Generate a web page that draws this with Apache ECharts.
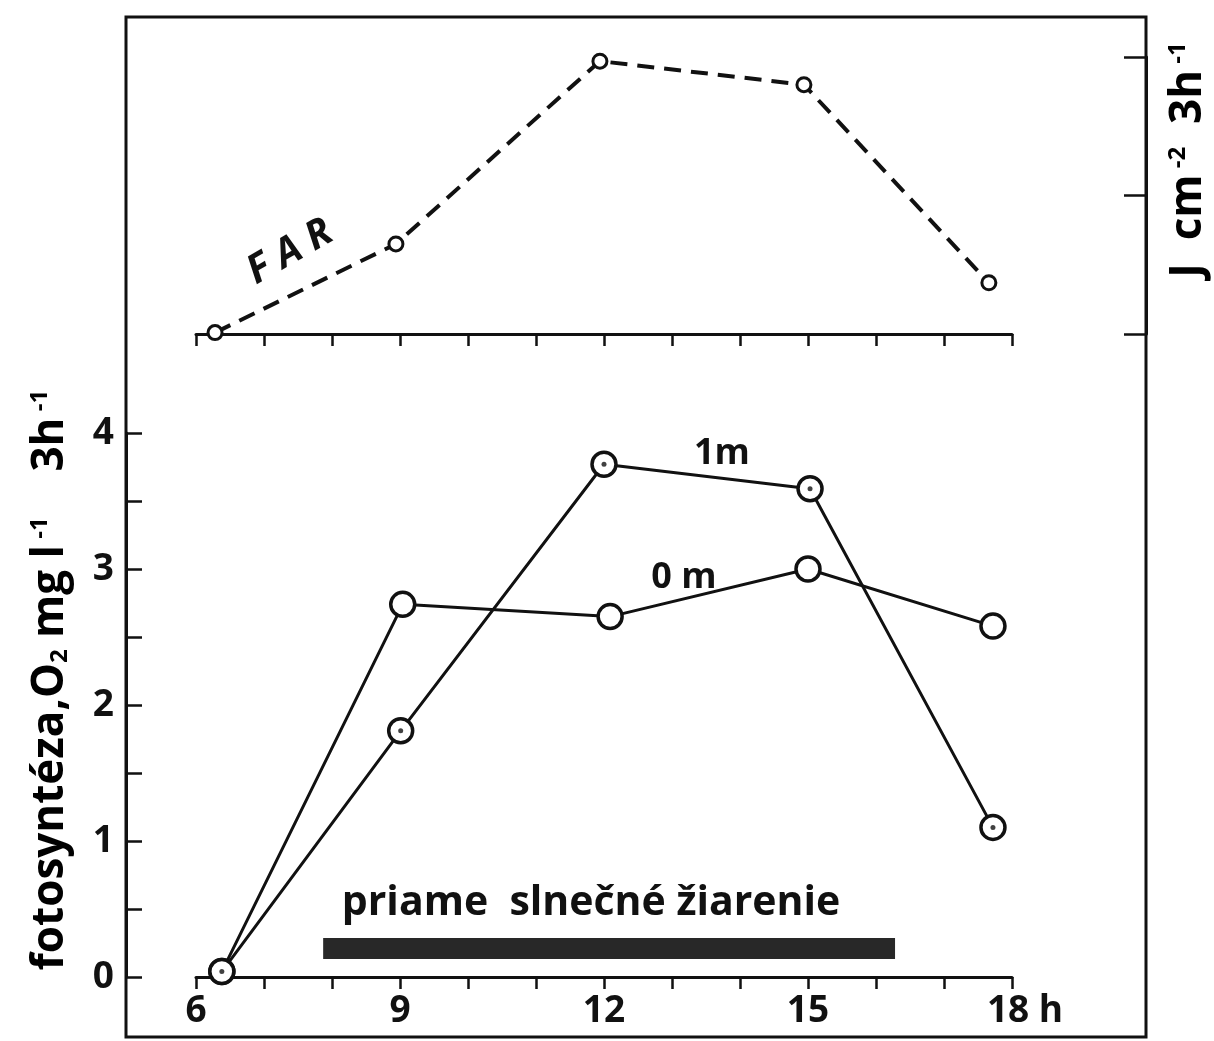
<!DOCTYPE html>
<html>
<head>
<meta charset="utf-8">
<script src="https://cdn.jsdelivr.net/npm/echarts@6/dist/echarts.min.js"></script>
<style>
  html, body { margin: 0; padding: 0; background: #fff; }
  #chart { width: 1214px; height: 1041px; }
</style>
</head>
<body>
<div id="chart"></div>
<script>
// FAR (upper panel, right axis, no numbers on it)
var farHours = [6.28, 8.94, 11.94, 14.94, 17.66];
var farValues = [0.01, 0.65, 1.97, 1.80, 0.37];

// fotosynteza O2 (lower panel)
var hours0m = [6.38, 9.04, 12.09, 15.0, 17.72];
var values0m = [0.04, 2.74, 2.65, 3.0, 2.58];
var hours1m = [6.38, 9.01, 12.0, 15.03, 17.72];
var values1m = [0.04, 1.81, 3.77, 3.59, 1.10];

// priame slnecne ziarenie - the black bar
var sunPeriod = [7.87, 16.28];
var sunLevel = 0.21;

var hourLabels = [6, 9, 12, 15, 18];

var FONT = "'Open Sans', 'DejaVu Sans', sans-serif";
var INK = '#111';

function zip(xs, ys) {
    return xs.map(function (x, i) { return [x, ys[i]]; });
}

var chart = echarts.init(document.getElementById('chart'));

var hourAxis = {
    type: 'value', min: 6, max: 18, interval: 1,
    axisLine: { lineStyle: { color: INK, width: 3 } },
    axisTick: { length: 12, lineStyle: { color: INK, width: 2.5 } },
    splitLine: { show: false }
};

var sup = { fontFamily: FONT, fontWeight: 'bold', fontSize: 24, color: INK, verticalAlign: 'top', padding: [0, 0, 18, 0] };
var sub = { fontFamily: FONT, fontWeight: 'bold', fontSize: 24, color: INK, verticalAlign: 'bottom', padding: [14, 0, 0, 0] };
var big = { fontFamily: FONT, fontWeight: 'bold', fontSize: 44, color: INK };

var option = {
    backgroundColor: '#fff',
    animation: false,
    grid: [
        { left: 196, right: 202, top: 57, height: 277 },
        { left: 196, right: 202, top: 433, height: 544 }
    ],
    xAxis: [
        Object.assign({}, hourAxis, { gridIndex: 0, axisLabel: { show: false } }),
        Object.assign({}, hourAxis, {
            gridIndex: 1,
            axisLabel: {
                margin: 16,
                formatter: function (v) {
                    if (hourLabels.indexOf(v) < 0) return '';
                    if (v === 18) return '{pad|}{n|18}{u| h}';
                    return '{n|' + v + '}';
                },
                rich: {
                    n: { fontFamily: FONT, fontWeight: 'bold', fontSize: 37, color: INK },
                    u: { fontFamily: FONT, fontWeight: 'bold', fontSize: 37, color: INK },
                    pad: { width: 26 }
                }
            }
        })
    ],
    yAxis: [
        {
            gridIndex: 0, type: 'value', position: 'right', offset: 134,
            min: 0, max: 2, interval: 1,
            axisLine: { show: true, lineStyle: { color: INK, width: 3 } },
            axisTick: { inside: true, length: 22, lineStyle: { color: INK, width: 2.5 } },
            axisLabel: { show: false },
            splitLine: { show: false }
        },
        {
            gridIndex: 1, type: 'value', position: 'left', offset: 70,
            min: 0, max: 4, interval: 1,
            axisLine: { show: true, lineStyle: { color: INK, width: 3 } },
            axisTick: { inside: true, length: 16, lineStyle: { color: INK, width: 2.5 } },
            minorTick: { show: true, splitNumber: 2, length: 16, lineStyle: { color: INK, width: 2.5 } },
            axisLabel: { margin: 12, fontFamily: FONT, fontWeight: 'bold', fontSize: 37, color: INK },
            splitLine: { show: false }
        }
    ],
    series: [
        {
            name: 'FAR', type: 'line', xAxisIndex: 0, yAxisIndex: 0,
            data: zip(farHours, farValues),
            lineStyle: { color: INK, width: 4, type: [17, 10] },
            symbol: 'circle', symbolSize: 14,
            itemStyle: { color: '#fff', borderColor: INK, borderWidth: 3 },
            z: 3
        },
        {
            name: 'sun', type: 'line', xAxisIndex: 1, yAxisIndex: 1,
            data: zip(sunPeriod, [sunLevel, sunLevel]),
            symbol: 'none',
            lineStyle: { color: '#282828', width: 21, cap: 'butt' },
            z: 1
        },
        {
            name: '0m', type: 'line', xAxisIndex: 1, yAxisIndex: 1,
            data: zip(hours0m, values0m),
            lineStyle: { color: INK, width: 3 },
            symbol: 'circle', symbolSize: 24,
            itemStyle: { color: '#fff', borderColor: INK, borderWidth: 3.5 },
            z: 3
        },
        {
            name: '1m', type: 'line', xAxisIndex: 1, yAxisIndex: 1,
            data: zip(hours1m, values1m),
            lineStyle: { color: INK, width: 3 },
            symbol: 'circle', symbolSize: 24,
            itemStyle: { color: '#fff', borderColor: INK, borderWidth: 3.5 },
            z: 4
        },
        {
            name: '1m dot', type: 'scatter', xAxisIndex: 1, yAxisIndex: 1,
            data: zip(hours1m, values1m),
            symbol: 'circle', symbolSize: 5,
            itemStyle: { color: INK },
            z: 5
        }
    ],
    graphic: [
        {
            type: 'rect', z: -1, silent: true,
            shape: { x: 126, y: 17, width: 1020, height: 1020 },
            style: { fill: 'none', stroke: INK, lineWidth: 3 }
        },
        {
            type: 'text', x: 290, y: 252, rotation: 30 * Math.PI / 180,
            style: { text: 'F A R', fontFamily: FONT, fontWeight: 'bold', fontStyle: 'italic', fontSize: 40, fill: INK, align: 'center', verticalAlign: 'middle' }
        },
        {
            type: 'text', x: 722, y: 454,
            style: { text: '1m', fontFamily: FONT, fontWeight: 'bold', fontSize: 36, fill: INK, align: 'center', verticalAlign: 'middle' }
        },
        {
            type: 'text', x: 684, y: 578,
            style: { text: '0 m', fontFamily: FONT, fontWeight: 'bold', fontSize: 36, fill: INK, align: 'center', verticalAlign: 'middle' }
        },
        {
            type: 'text', x: 591, y: 903,
            style: { text: 'priame  slnečné žiarenie', fontFamily: FONT, fontWeight: 'bold', fontSize: 41, fill: INK, align: 'center', verticalAlign: 'middle' }
        },
        {
            type: 'text', x: 50, y: 680, rotation: Math.PI / 2,
            style: {
                text: '{b|fotosyntéza,O}{sub|2}{b| mg l}{sup| -1}{b|    3h}{sup| -1}',
                rich: { b: big, sup: sup, sub: sub },
                align: 'center', verticalAlign: 'middle'
            }
        },
        {
            type: 'text', x: 1188, y: 160, rotation: Math.PI / 2,
            style: {
                text: '{b|J  cm}{sup| -2}{b|  3h}{sup| -1}',
                rich: { b: big, sup: sup },
                align: 'center', verticalAlign: 'middle'
            }
        }
    ]
};

chart.setOption(option);
</script>
</body>
</html>
